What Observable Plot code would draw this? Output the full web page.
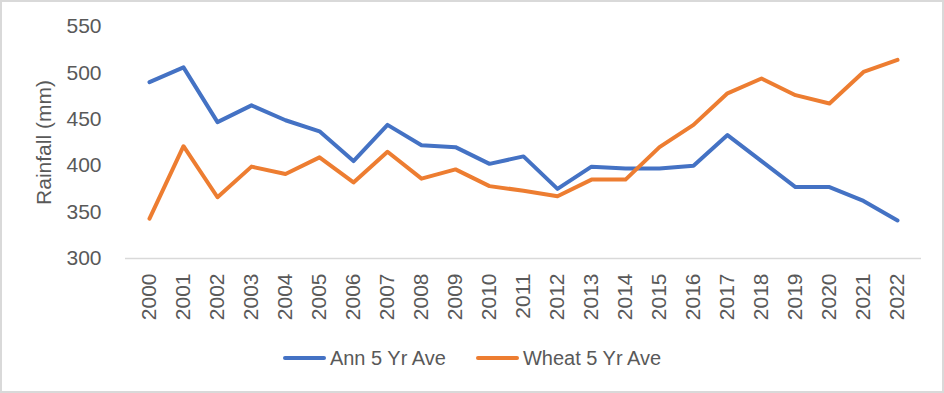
<!DOCTYPE html>
<html>
<head>
<meta charset="utf-8">
<script src="https://cdn.jsdelivr.net/npm/d3@7"></script>
<script src="https://cdn.jsdelivr.net/npm/@observablehq/plot@0.6"></script>
<style>
  html, body { margin: 0; padding: 0; background: #fff; }
  #wrap { position: relative; width: 944px; height: 393px; overflow: hidden; background: #fff;
          font-family: "Liberation Sans", Arial, sans-serif; }
  #border { position: absolute; left: 0; top: 0; width: 944px; height: 393px; box-sizing: border-box;
            border: 2px solid #d9d9d9; pointer-events: none; }
  #legend { position: absolute; left: 0; top: 335px; width: 944px; height: 46px;
            display: flex; justify-content: center; align-items: center; gap: 30px;
            font-size: 20px; color: #595959; }
  .item { display: flex; align-items: center; }
  .sw { display: inline-block; width: 43px; height: 4px; border-radius: 2px; margin-right: 4px; }
</style>
</head>
<body>
<div id="wrap">
  <div id="chart"></div>
  <div id="legend"></div>
  <div id="border"></div>
</div>
<script>
const years = ["2000","2001","2002","2003","2004","2005","2006","2007","2008","2009","2010","2011","2012","2013","2014","2015","2016","2017","2018","2019","2020","2021","2022"];
const annValues   = [490, 506, 447, 465, 449, 437, 405, 444, 422, 420, 402, 410, 375, 399, 397, 397, 400, 433, 405, 377, 377, 362, 341];
const wheatValues = [343, 421, 366, 399, 391, 409, 382, 415, 386, 396, 378, 373, 367, 385, 385, 420, 444, 478, 494, 476, 467, 501, 514];
const seriesNames = ["Ann 5 Yr Ave", "Wheat 5 Yr Ave"];
const seriesColors = ["#4472C4", "#ED7D31"];
const yTicks = [300, 350, 400, 450, 500, 550];

const rows = [];
years.forEach((y, i) => {
  rows.push({year: y, value: annValues[i], series: seriesNames[0]});
  rows.push({year: y, value: wheatValues[i], series: seriesNames[1]});
});

const plot = Plot.plot({
  width: 944,
  height: 335,
  marginLeft: 125,
  marginRight: 23,
  marginTop: 26,
  marginBottom: 77,
  style: {fontFamily: "'Liberation Sans', Arial, sans-serif", fontSize: "21px", color: "#595959", background: "transparent", overflow: "visible"},
  x: {type: "point", domain: years, padding: 0.5},
  y: {domain: [300, 550]},
  color: {domain: seriesNames, range: seriesColors},
  marks: [
    Plot.ruleY([300], {stroke: "#d9d9d9", strokeWidth: 1.5}),
    Plot.axisY({ticks: yTicks, tickSize: 0, tickPadding: 24, label: null, fill: "#595959", fontSize: 21}),
    Plot.axisX({tickSize: 0, tickRotate: -90, tickPadding: 15, label: null, fill: "#595959", fontSize: 21}),
    Plot.text(["Rainfall (mm)"], {frameAnchor: "left", textAnchor: "middle", dx: -81, rotate: -90, fill: "#595959", fontSize: 21}),
    Plot.line(rows, {x: "year", y: "value", z: "series", stroke: "series", strokeWidth: 4, strokeLinejoin: "round", strokeLinecap: "round"})
  ]
});
document.getElementById("chart").appendChild(plot);

const legend = document.getElementById("legend");
seriesNames.forEach((name, i) => {
  const item = document.createElement("div");
  item.className = "item";
  const sw = document.createElement("span");
  sw.className = "sw";
  sw.style.background = seriesColors[i];
  const t = document.createElement("span");
  t.textContent = name;
  item.appendChild(sw);
  item.appendChild(t);
  legend.appendChild(item);
});
</script>
</body>
</html>
